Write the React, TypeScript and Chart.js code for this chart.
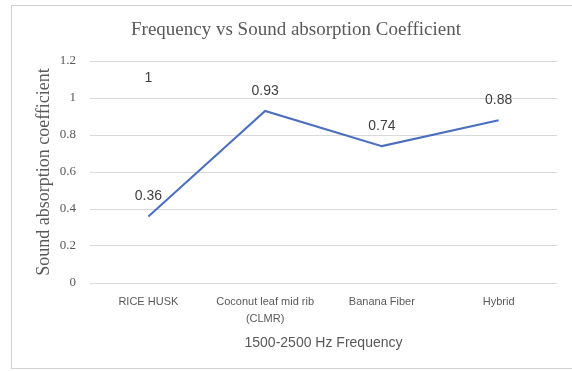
import { useEffect, useRef } from "react";
import { Chart, registerables } from "chart.js";

Chart.register(...registerables);

// Category labels (multi-line where the label wraps)
const categories: (string | string[])[] = [
  "RICE HUSK",
  ["Coconut leaf mid rib", "(CLMR)"],
  "Banana Fiber",
  "Hybrid",
];

// Sound absorption coefficient at 1500-2500 Hz
const absorption = [0.36, 0.93, 0.74, 0.88];

// Second series: only a single point, shown by its value label
const secondSeries = [1, null, null, null];

const yTickValues = [0, 0.2, 0.4, 0.6, 0.8, 1, 1.2];

const SERIF = "'Liberation Serif', 'Times New Roman', serif";
const SANS = "'Liberation Sans', Arial, sans-serif";
const TEXT_GREY = "#595959";
const GRID_GREY = "#d9d9d9";

// White background plus the light frame around the chart
const framePlugin = {
  id: "frame",
  beforeDraw(chart: Chart) {
    const { ctx, width, height } = chart;
    ctx.save();
    ctx.fillStyle = "#ffffff";
    ctx.fillRect(0, 0, width, height);
    ctx.strokeStyle = "#d0d0d0";
    ctx.lineWidth = 1;
    ctx.strokeRect(11.5, 5.5, width, 363);
    ctx.restore();
  },
};

// Value labels drawn above each point
const valueLabelPlugin = {
  id: "valueLabels",
  afterDatasetsDraw(chart: Chart) {
    const { ctx } = chart;
    ctx.save();
    ctx.font = `14px ${SANS}`;
    ctx.fillStyle = "#404040";
    ctx.textAlign = "center";
    ctx.textBaseline = "middle";
    chart.data.datasets.forEach((ds, i) => {
      const meta = chart.getDatasetMeta(i);
      meta.data.forEach((pt, j) => {
        const v = ds.data[j] as number | null;
        if (v === null || v === undefined) return;
        ctx.fillText(String(v), pt.x, pt.y - 20);
      });
    });
    ctx.restore();
  },
};

export default function App() {
  const canvasRef = useRef<HTMLCanvasElement | null>(null);

  useEffect(() => {
    if (!canvasRef.current) return;
    const chart = new Chart(canvasRef.current, {
      type: "line",
      data: {
        labels: categories,
        datasets: [
          {
            label: "Sound absorption coefficient",
            data: absorption,
            borderColor: "#4a6fbf",
            borderWidth: 2,
            pointRadius: 0,
            pointHoverRadius: 0,
            tension: 0,
            fill: false,
          },
          {
            label: "Series 2",
            data: secondSeries,
            borderColor: "#ed7d31",
            borderWidth: 2,
            pointRadius: 0,
            pointHoverRadius: 0,
            spanGaps: false,
            fill: false,
          },
        ],
      },
      options: {
        responsive: false,
        animation: false,
        layout: { padding: { top: 5, left: 35, right: 15, bottom: 8 } },
        plugins: {
          legend: { display: false },
          tooltip: { enabled: false },
          title: {
            display: true,
            text: "Frequency vs Sound absorption Coefficient",
            color: TEXT_GREY,
            font: { family: SERIF, size: 19, weight: "normal", lineHeight: 1.2 },
            padding: { top: 13.6, bottom: 19.6 },
          },
        },
        scales: {
          x: {
            offset: true,
            grid: { display: false, drawTicks: false },
            border: { display: false },
            ticks: {
              color: TEXT_GREY,
              font: { family: SANS, size: 11, lineHeight: 1.6 },
              padding: 10,
              autoSkip: false,
              maxRotation: 0,
            },
            title: {
              display: true,
              text: "1500-2500 Hz Frequency",
              color: TEXT_GREY,
              font: { family: SANS, size: 14, lineHeight: 1.2 },
              padding: { top: 0, bottom: 11.6 },
            },
            afterFit(scale: any) {
              scale.height = 80;
            },
          },
          y: {
            min: 0,
            max: 1.2,
            afterBuildTicks(scale: any) {
              scale.ticks = yTickValues.map((v) => ({ value: v }));
            },
            grid: { color: GRID_GREY, lineWidth: 1, drawTicks: false },
            border: { display: false },
            ticks: {
              color: TEXT_GREY,
              font: { family: SERIF, size: 13 },
              padding: 14,
              callback: (v: any) => String(Math.round(Number(v) * 10) / 10),
            },
            title: {
              display: true,
              text: "Sound absorption coefficient",
              color: TEXT_GREY,
              font: { family: SERIF, size: 18, lineHeight: 1 },
              padding: { top: 0, bottom: 0 },
            },
            afterFit(scale: any) {
              scale.width = 55;
            },
          },
        },
      },
      plugins: [framePlugin, valueLabelPlugin],
    });
    return () => chart.destroy();
  }, []);

  return (
    <div style={{ position: "fixed", left: 0, top: 0 }}>
      <canvas ref={canvasRef} width={572} height={371} style={{ display: "block" }} />
    </div>
  );
}
